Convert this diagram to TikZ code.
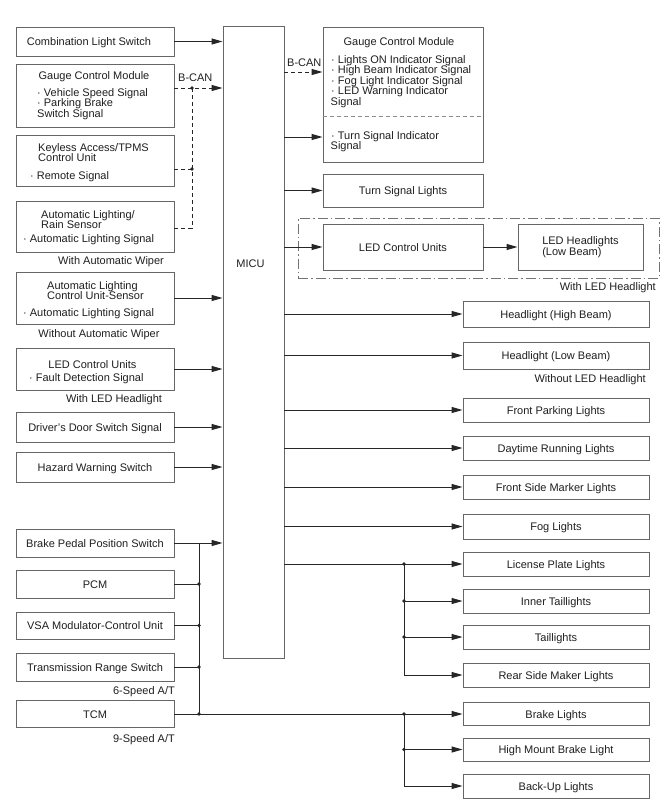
\documentclass[tikz,border=0pt]{standalone}
\usepackage{fontspec}
\setmainfont{Liberation Sans}
\usetikzlibrary{arrows.meta}
\newcommand\diafont{\fontsize{11}{10.5}\selectfont}
\tikzset{
  box/.style={draw=black!60, line width=0.9pt, fill=white, inner sep=0pt, rectangle, text height=8pt, text depth=0pt},
  lbox/.style={box, minimum width=158pt},
  rbox/.style={box, minimum width=186pt},
  cbox/.style={box, minimum width=160pt},
  txt/.style={inner sep=0pt},
  conn/.style={draw=black!85, line width=1pt},
  arr/.style={conn, -{Triangle[length=11pt,width=6pt]}},
  bcan/.style={conn, dash pattern=on 4pt off 3pt},
  dotc/.style={circle, fill=black!85, inner sep=0pt, minimum size=3.6pt},
}
\begin{document}
\begin{tikzpicture}[x=1pt, y=-1pt, font=\diafont, text=black!88]
\useasboundingbox (0,0) rectangle (665,809);

% ---------- MICU ----------
\node[box, minimum width=61pt, minimum height=632pt] (micu) at (253.5,342) {};
\node[txt, anchor=base] (micut) at (250.5,267) {MICU};

% ---------- left inputs ----------
\node[lbox, minimum height=29pt] (cls) at (95,41.5) {Combination Light Switch\hspace*{12pt}};

\node[lbox, minimum height=63pt] (gcmL) at (95,95.5) {};
\node[txt, anchor=base] (gcmLa) at (94,79) {Gauge Control Module};
\node[txt, anchor=base west] (gcmLb) at (37,96) {· Vehicle Speed Signal};
\node[txt, anchor=base west] (gcmLc) at (37,106.5) {· Parking Brake};
\node[txt, anchor=base west] (gcmLd) at (37,117) {Switch Signal};

\node[lbox, minimum height=51pt] (kal) at (95,160.5) {};
\node[txt, anchor=base west] (kalA) at (38,151) {Keyless Access/TPMS};
\node[txt, anchor=base west] (kalB) at (38,161) {Control Unit};
\node[txt, anchor=base west] (kalC) at (30,179) {· Remote Signal};

\node[lbox, minimum height=51pt] (alrs) at (95,226.5) {};
\node[txt, anchor=base west] (alA) at (41,218) {Automatic Lighting/};
\node[txt, anchor=base west] (alB) at (41,228) {Rain Sensor};
\node[txt, anchor=base west] (alC) at (23,242) {· Automatic Lighting Signal};
\node[txt, anchor=base] (wAW) at (111,264) {With Automatic Wiper};

\node[lbox, minimum height=52pt] (alcu) at (95,298) {};
\node[txt, anchor=base west] (acA) at (47,289) {Automatic Lighting};
\node[txt, anchor=base west] (acB) at (47,299) {Control Unit-Sensor};
\node[txt, anchor=base west] (acC) at (23,316) {· Automatic Lighting Signal};
\node[txt, anchor=base] (woAW) at (99,337) {Without Automatic Wiper};

\node[lbox, minimum height=42pt] (ledL) at (95,369) {};
\node[txt, anchor=base] (llA) at (92.5,368) {LED Control Units};
\node[txt, anchor=base west] (llB) at (29,381) {· Fault Detection Signal};
\node[txt, anchor=base] (wLEDl) at (114,402) {With LED Headlight};

\node[lbox, minimum height=30pt] (dds) at (95,427) {Driver's Door Switch Signal};
\node[lbox, minimum height=30pt] (hws) at (95,467) {Hazard Warning Switch};

\node[lbox, minimum height=28pt] (bpps) at (95,543) {Brake Pedal Position Switch};
\node[lbox, minimum height=28pt] (pcm) at (95,584) {PCM};
\node[lbox, minimum height=27pt] (vsa) at (95,625.5) {VSA Modulator-Control Unit};
\node[lbox, minimum height=28pt] (trs) at (95,667) {Transmission Range Switch};
\node[txt, anchor=base east] (s6) at (175,694) {6-Speed A/T};
\node[lbox, minimum height=27pt] (tcm) at (95,714) {TCM};
\node[txt, anchor=base east] (s9) at (175,742) {9-Speed A/T};

% ---------- right outputs ----------
\node[cbox, minimum height=135pt] (gcmR) at (403,94.5) {};
\draw[draw=black!45, line width=0.9pt, dash pattern=on 4pt off 3pt] (gcmR.west |- 0,116) -- (gcmR.east |- 0,116);
\node[txt, anchor=base] (grA) at (399,45) {Gauge Control Module};
\node[txt, anchor=base west] (grB) at (331,63) {· Lights ON Indicator Signal};
\node[txt, anchor=base west] (grC) at (331,73.5) {· High Beam Indicator Signal};
\node[txt, anchor=base west] (grD) at (331,84) {· Fog Light Indicator Signal};
\node[txt, anchor=base west] (grE) at (331,94.5) {· LED Warning Indicator};
\node[txt, anchor=base west] (grF) at (330.5,105) {Signal};
\node[txt, anchor=base west] (grG) at (331,139) {· Turn Signal Indicator};
\node[txt, anchor=base west] (grH) at (330.5,149.5) {Signal};

\node[cbox, minimum height=33pt] (tsl) at (403,190.5) {Turn Signal Lights};

\node[draw=black!55, line width=0.9pt, dash pattern=on 10pt off 3pt on 1.5pt off 3pt, inner sep=0pt, minimum width=361pt, minimum height=60pt] (ledgrp) at (478.5,248) {};
\node[cbox, minimum height=46pt] (ledcu) at (403,247) {LED Control Units};
\node[box, minimum width=125pt, minimum height=46pt, text height=, text depth=, align=left] (ledhl) at (580.5,247) {LED Headlights\\(Low Beam)};
\node[txt, anchor=base east] (wLEDr) at (656,290) {With LED Headlight};

\node[rbox, minimum height=26pt] (hb) at (556,314) {Headlight (High Beam)};
\node[rbox, minimum height=27pt] (lb) at (556,355.5) {Headlight (Low Beam)};
\node[txt, anchor=base east] (woLED) at (646,382) {Without LED Headlight};
\node[rbox, minimum height=24pt] (fpl) at (556,410) {Front Parking Lights};
\node[rbox, minimum height=24pt] (drl) at (556,448) {Daytime Running Lights};
\node[rbox, minimum height=24pt] (fsm) at (556,487) {Front Side Marker Lights};
\node[rbox, minimum height=25pt] (fog) at (556,526.5) {Fog Lights};
\node[rbox, minimum height=24pt] (lic) at (556,564) {License Plate Lights};
\node[rbox, minimum height=24pt] (itl) at (556,601) {Inner Taillights};
\node[rbox, minimum height=24pt] (tl) at (556,637) {Taillights};
\node[rbox, minimum height=24pt] (rsm) at (556,675) {Rear Side Maker Lights};
\node[rbox, minimum height=23pt] (bl) at (556,714) {Brake Lights};
\node[rbox, minimum height=23pt] (hmb) at (556,749.5) {High Mount Brake Light};
\node[rbox, minimum height=24pt] (bul) at (556,786) {Back-Up Lights};

% ---------- connectors: left ----------
\foreach \n in {cls,alcu,ledL,dds,hws,bpps}
  \draw[arr] (\n.east) -- (\n.east -| micu.west);

\coordinate (cb1) at (192,88);
\coordinate (ck) at (192,169);
\coordinate (cb2) at (192,228);
\draw[bcan, -{Triangle[length=11pt,width=6pt]}] (gcmL.east |- cb1) -- (micu.west |- cb1);
\draw[bcan] (kal.east |- ck) -- (ck);
\draw[bcan] (alrs.east |- cb2) -- (cb2) -- (cb1);
\node[dotc] (d1) at (cb1) {};
\node[dotc] (d2) at (ck) {};
\node[txt, anchor=base west] (bcanL) at (178,81) {B-CAN};

\coordinate (bus) at (199,543);
\draw[conn] (bus) -- (bus |- tcm.east);
\foreach \n in {pcm,vsa,trs}{
  \draw[conn] (\n.east) -- (\n.east -| bus);
  \node[dotc] at (\n.east -| bus) {};
}
\coordinate (jR) at (404,564);
\draw[arr] (tcm.east) -- (tcm.east -| bl.west);
\node[dotc] (d3) at (tcm.east -| bus) {};

% ---------- connectors: right ----------
\coordinate (cr1) at (300,72);
\coordinate (cr2) at (300,137);
\draw[bcan, -{Triangle[length=11pt,width=6pt]}] (micu.east |- cr1) -- (gcmR.west |- cr1);
\node[txt, anchor=base west] (bcanR) at (287,66) {B-CAN};
\draw[arr] (micu.east |- cr2) -- (gcmR.west |- cr2);
\foreach \n in {tsl,ledcu,hb,lb,fpl,drl,fsm,fog,lic}
  \draw[arr] (\n.west -| micu.east) -- (\n.west);
\draw[arr] (ledcu.east) -- (ledhl.west);

\draw[arr] (jR |- lic.west) |- (rsm.west);
\foreach \n in {itl,tl}
  \draw[arr] (jR |- \n.west) -- (\n.west);
\foreach \n in {lic,itl,tl}
  \node[dotc] at (jR |- \n.west) {};

\draw[arr] (jR |- bl.west) |- (bul.west);
\draw[arr] (jR |- hmb.west) -- (hmb.west);
\foreach \n in {bl,hmb}
  \node[dotc] at (jR |- \n.west) {};
\end{tikzpicture}
\end{document}
